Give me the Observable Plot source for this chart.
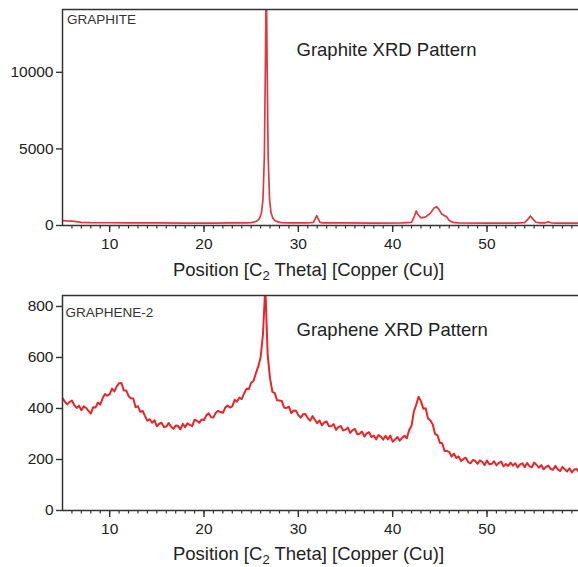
<!DOCTYPE html>
<html><head><meta charset="utf-8">
<script src="https://cdn.jsdelivr.net/npm/d3@7"></script>
<script src="https://cdn.jsdelivr.net/npm/@observablehq/plot@0.6"></script>
<style>
html,body{margin:0;padding:0;background:#fff;}
#chart{width:578px;height:567px;overflow:hidden;background:#fff;}
#chart svg{display:block;}
</style></head><body><div id="chart"></div>
<script>
const FONT = "'Liberation Sans', Arial, Helvetica, sans-serif";
const thetaDomain = [5, 59.7];
const majorTicks = [10, 20, 30, 40, 50];
const minorTicks = [6,7,8,9,10,11,12,13,14,15,16,17,18,19,20,21,22,23,24,25,26,27,28,29,30,31,32,33,34,35,36,37,38,39,40,41,42,43,44,45,46,47,48,49,50,51,52,53,54,55,56,57,58,59];
const graphiteTicks = [0, 5000, 10000];
const grapheneTicks = [0, 200, 400, 600, 800];
const panelTags = ["GRAPHITE", "GRAPHENE-2"];
const panelTitles = ["Graphite XRD Pattern", "Graphene XRD Pattern"];

const graphiteTheta = [5.0,5.5,6.0,6.5,7.0,8.0,10,12,15,18,21,23,24.5,25.0,25.4,25.7,25.9,26.1,26.25,26.4,26.5,26.6,26.7,26.8,26.95,27.1,27.3,27.5,27.8,28.2,29,30,31,31.6,31.8,31.95,32.1,32.3,32.6,35,38,41,42.0,42.3,42.5,42.7,43.0,43.5,44.0,44.4,44.65,44.9,45.2,45.5,45.7,46.0,46.4,47,50,53,54.0,54.3,54.6,54.9,55.2,55.6,56.2,56.5,56.8,57.5,59.75];
const graphiteCounts = [320,300,290,250,210,190,180,170,165,160,160,165,175,190,240,330,480,850,1700,4500,10000,17000,10000,4500,1700,850,480,330,240,190,170,165,165,200,450,650,450,200,170,165,160,165,200,600,950,700,500,560,800,1150,1230,1050,750,640,580,320,200,170,160,160,190,380,620,400,210,170,175,240,175,160,155];

const grapheneTheta = [
5.00,5.25,5.50,5.75,6.00,6.25,6.50,6.75,
7.00,7.25,7.50,7.75,8.00,8.25,8.50,8.75,
9.00,9.25,9.50,9.75,10.00,10.25,10.50,10.75,
11.00,11.25,11.50,11.75,12.00,12.25,12.50,12.75,
13.00,13.25,13.50,13.75,14.00,14.25,14.50,14.75,
15.00,15.25,15.50,15.75,16.00,16.25,16.50,16.75,
17.00,17.25,17.50,17.75,18.00,18.25,18.50,18.75,
19.00,19.25,19.50,19.75,20.00,20.25,20.50,20.75,
21.00,21.25,21.50,21.75,22.00,22.25,22.50,22.75,
23.00,23.25,23.50,23.75,24.00,24.25,24.50,24.75,
25.00,25.25,25.50,25.75,26.00,26.25,26.50,26.75,
27.00,27.25,27.50,27.75,28.00,28.25,28.50,28.75,
29.00,29.25,29.50,29.75,30.00,30.25,30.50,30.75,
31.00,31.25,31.50,31.75,32.00,32.25,32.50,32.75,
33.00,33.25,33.50,33.75,34.00,34.25,34.50,34.75,
35.00,35.25,35.50,35.75,36.00,36.25,36.50,36.75,
37.00,37.25,37.50,37.75,38.00,38.25,38.50,38.75,
39.00,39.25,39.50,39.75,40.00,40.25,40.50,40.75,
41.00,41.25,41.50,41.75,42.00,42.25,42.50,42.75,
43.00,43.25,43.50,43.75,44.00,44.25,44.50,44.75,
45.00,45.25,45.50,45.75,46.00,46.25,46.50,46.75,
47.00,47.25,47.50,47.75,48.00,48.25,48.50,48.75,
49.00,49.25,49.50,49.75,50.00,50.25,50.50,50.75,
51.00,51.25,51.50,51.75,52.00,52.25,52.50,52.75,
53.00,53.25,53.50,53.75,54.00,54.25,54.50,54.75,
55.00,55.25,55.50,55.75,56.00,56.25,56.50,56.75,
57.00,57.25,57.50,57.75,58.00,58.25,58.50,58.75,
59.00,59.25,59.50,59.75];
const grapheneCounts = [
441,427,416,426,431,413,402,411,
393,409,402,391,380,405,404,423,
415,440,457,450,456,478,467,487,
499,500,471,471,449,440,439,405,
409,387,390,370,352,358,344,354,
330,340,344,327,329,343,329,320,
333,332,318,340,327,342,336,331,
356,352,344,357,355,373,381,366,
365,383,391,386,383,403,412,404,
408,434,427,443,437,459,477,476,
501,508,538,565,600,690,880,610,
518,465,460,432,431,429,403,402,
407,382,392,391,374,364,377,378,
362,352,370,356,342,353,334,345,
349,330,331,339,316,328,331,314,
317,325,304,315,320,299,301,310,
290,302,307,288,294,279,296,290,
278,293,279,294,270,278,288,274,
285,293,283,316,332,389,415,446,
428,399,401,361,353,337,300,295,
266,264,233,233,230,211,223,206,
212,194,202,207,190,185,198,195,
183,197,191,178,196,181,183,193,
177,187,192,173,182,175,188,176,
185,169,181,185,170,186,174,169,
188,179,168,178,162,171,176,163,
160,175,161,155,171,162,153,165,
149,161,163,150];

function panel(o) {
  const data = o.theta.map((t, i) => ({theta: t, counts: o.counts[i]}));
  const axisColor = "#333";
  const svg = Plot.plot({
    width: 578, height: o.height,
    marginTop: o.mt, marginBottom: o.mb, marginLeft: 62, marginRight: 0,
    style: {fontFamily: FONT, fontSize: "15.5px", color: "#222", background: "white", overflow: "visible"},
    x: {domain: thetaDomain},
    y: {domain: [0, o.yTop]},
    marks: [
      Plot.line(data, {x: "theta", y: "counts", stroke: o.stroke, strokeWidth: o.sw, clip: true, strokeLinejoin: "round"}),
      Plot.ruleY([0], {stroke: axisColor, strokeWidth: 1.5}),
      Plot.ruleY([o.yTop], {stroke: axisColor, strokeWidth: 1.5}),
      Plot.ruleX([thetaDomain[0]], {stroke: axisColor, strokeWidth: 1.5}),
      Plot.axisX(minorTicks, {tickSize: 3.5, tickPadding: 0, tickFormat: () => "", label: null, stroke: axisColor, strokeWidth: 1.2}),
      Plot.axisX(majorTicks, {tickSize: 7, tickPadding: 5, label: null, stroke: axisColor, strokeWidth: 1.4, fill: "#222", fontSize: 15.5}),
      Plot.axisY(o.yTicks, {tickSize: 6, tickPadding: 3, label: null, stroke: axisColor, strokeWidth: 1.4, fill: "#222", fontSize: 15.5, tickFormat: d => String(d)}),
      Plot.text([o.tag], {text: d => d, frameAnchor: "top-left", dx: o.tagDx, dy: o.tagDy, lineAnchor: "middle", textAnchor: "start", fontSize: 13.5, fill: "#333"}),
      Plot.text([o.title], {text: d => d, frameAnchor: "top-left", dx: 234, dy: o.titleDy, lineAnchor: "middle", textAnchor: "start", fontSize: 18.5, fill: "#222"})
    ]
  });
  const t = d3.select(svg).append("text")
    .attr("x", 308.5).attr("y", o.labelY)
    .attr("text-anchor", "middle")
    .attr("font-family", FONT).attr("font-size", 18.5).attr("fill", "#222");
  t.append("tspan").text("Position [C");
  t.append("tspan").attr("dy", 4).attr("font-size", 13).text("2");
  t.append("tspan").attr("dy", -4).text(" Theta] [Copper (Cu)]");
  return svg;
}

const chart = document.getElementById("chart");
chart.appendChild(panel({
  theta: graphiteTheta, counts: graphiteCounts, yTop: 14100, yTicks: graphiteTicks,
  height: 285, mt: 9, mb: 60, tag: panelTags[0], title: panelTitles[0],
  tagDx: 4.5, tagDy: 10, titleDy: 40.5, stroke: "#e03a3e", sw: 1.7, labelY: 276
}));
chart.appendChild(panel({
  theta: grapheneTheta, counts: grapheneCounts, yTop: 843, yTicks: grapheneTicks,
  height: 282, mt: 10, mb: 57, tag: panelTags[1], title: panelTitles[1],
  tagDx: 3, tagDy: 17, titleDy: 35, stroke: "#e8262a", sw: 2, labelY: 275
}));
</script></body></html>
